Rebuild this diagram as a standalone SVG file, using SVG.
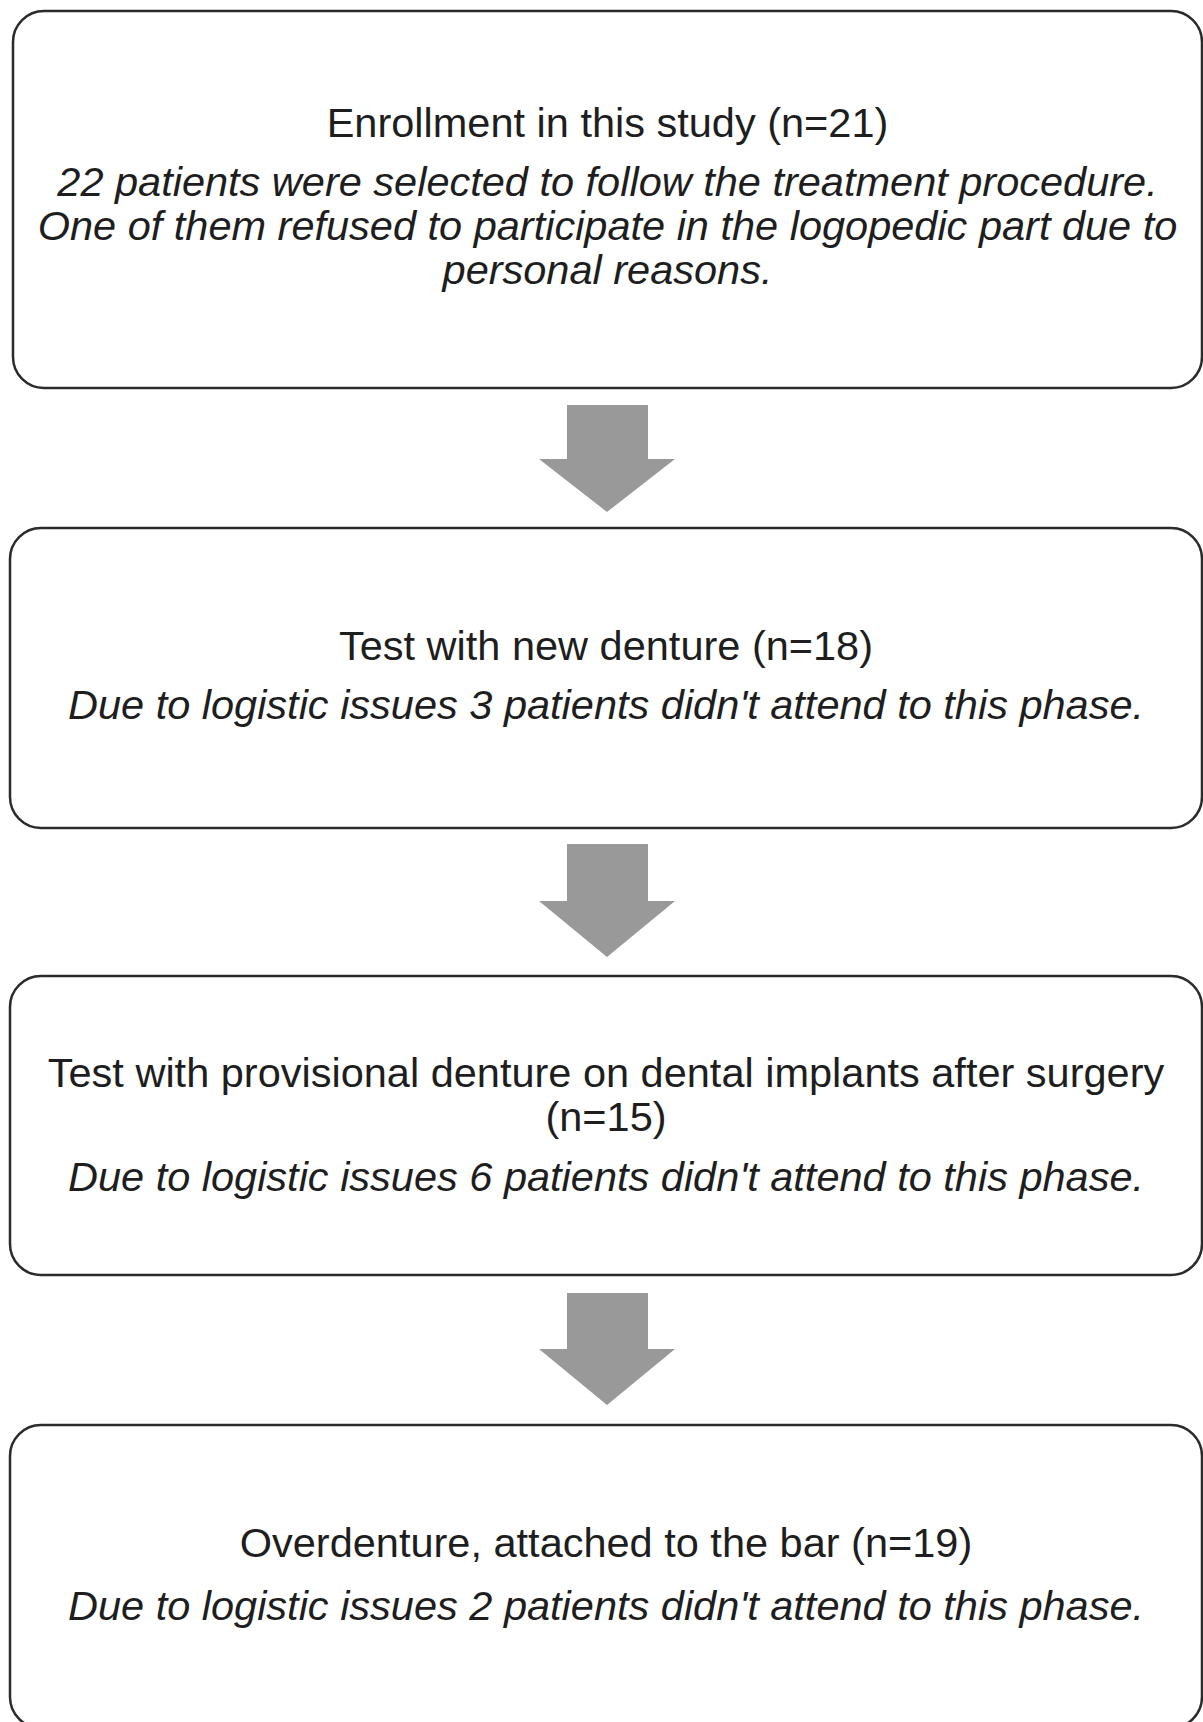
<svg xmlns="http://www.w3.org/2000/svg" width="1203" height="1722" viewBox="0 0 1203 1722">
<style>
.box{fill:#ffffff;stroke:#2b2b2b;stroke-width:2.5}
.t{font-family:"Liberation Sans",Arial,sans-serif;font-size:41.5px;fill:#1e1e1e;text-anchor:middle}
.i{font-style:italic}
.arr{fill:#999999}
</style>
<rect width="1203" height="1722" fill="#ffffff"/>
<g id="node1">
<rect class="box" x="13" y="11" width="1189" height="377" rx="31" ry="31"/>
<text class="t" x="607.5" y="137">Enrollment in this study (n=21)</text>
<text class="t i" x="607.5" y="196">22 patients were selected to follow the treatment procedure.</text>
<text class="t i" x="607.5" y="240">One of them refused to participate in the logopedic part due to</text>
<text class="t i" x="607.5" y="284">personal reasons.</text>
</g>
<g id="node2">
<rect class="box" x="10" y="528" width="1192" height="300" rx="31" ry="31"/>
<text class="t" x="606" y="660">Test with new denture (n=18)</text>
<text class="t i" x="606" y="719">Due to logistic issues 3 patients didn't attend to this phase.</text>
</g>
<g id="node3">
<rect class="box" x="10" y="976" width="1192" height="299" rx="31" ry="31"/>
<text class="t" x="606" y="1087">Test with provisional denture on dental implants after surgery</text>
<text class="t" x="606" y="1131">(n=15)</text>
<text class="t i" x="606" y="1191">Due to logistic issues 6 patients didn't attend to this phase.</text>
</g>
<g id="node4">
<rect class="box" x="10" y="1425" width="1192" height="303" rx="31" ry="31"/>
<text class="t" x="606" y="1557">Overdenture, attached to the bar (n=19)</text>
<text class="t i" x="606" y="1620">Due to logistic issues 2 patients didn't attend to this phase.</text>
</g>
<g id="connectors">
<polygon class="arr" points="567,405 648,405 648,459 675,459 607,512 539,459 567,459"/>
<polygon class="arr" points="567,844 648,844 648,901 675,901 607,957 539,901 567,901"/>
<polygon class="arr" points="567,1293 648,1293 648,1349 675,1349 607,1405 539,1349 567,1349"/>
</g>
</svg>
